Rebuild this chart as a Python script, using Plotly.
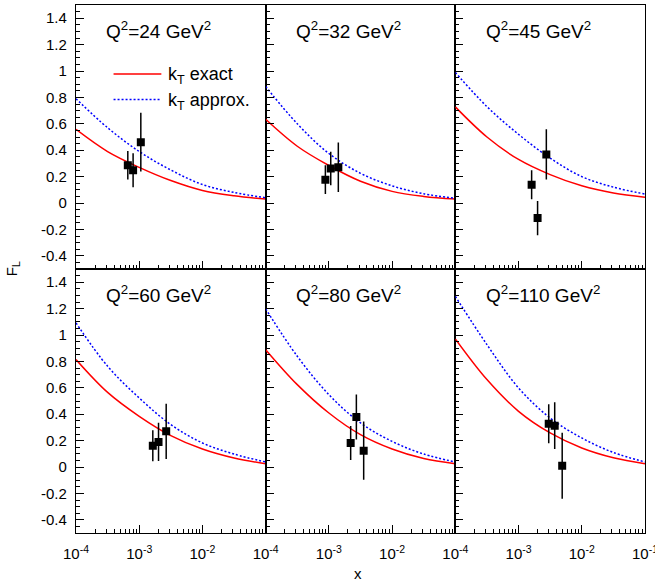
import plotly.graph_objects as go
from plotly.subplots import make_subplots

# ---------------- data ----------------
q2_labels = ["Q<sup>2</sup>=24 GeV<sup>2</sup>", "Q<sup>2</sup>=32 GeV<sup>2</sup>", "Q<sup>2</sup>=45 GeV<sup>2</sup>",
             "Q<sup>2</sup>=60 GeV<sup>2</sup>", "Q<sup>2</sup>=80 GeV<sup>2</sup>", "Q<sup>2</sup>=110 GeV<sup>2</sup>"]
legend_labels = ["k<sub>T</sub> exact", "k<sub>T</sub> approx."]

# theory curves sampled at half decades
curve_x = [1e-4, 3.162e-4, 1e-3, 3.162e-3, 1e-2, 3.162e-2, 1e-1]
exact_24 = [0.558, 0.39, 0.27, 0.17, 0.095, 0.055, 0.03]
approx_24 = [0.79, 0.57, 0.39, 0.25, 0.14, 0.08, 0.04]
exact_32 = [0.634, 0.43, 0.284, 0.165, 0.088, 0.05, 0.03]
approx_32 = [0.883, 0.60, 0.375, 0.225, 0.13, 0.07, 0.035]
exact_45 = [0.728, 0.50, 0.33, 0.215, 0.13, 0.075, 0.043]
approx_45 = [0.989, 0.73, 0.52, 0.34, 0.20, 0.12, 0.068]
exact_60 = [0.814, 0.565, 0.384, 0.238, 0.136, 0.068, 0.025]
approx_60 = [1.092, 0.763, 0.523, 0.321, 0.182, 0.098, 0.038]
exact_80 = [0.889, 0.624, 0.409, 0.245, 0.136, 0.064, 0.025]
approx_80 = [1.198, 0.839, 0.548, 0.334, 0.194, 0.098, 0.038]
exact_110 = [0.97, 0.662, 0.422, 0.258, 0.144, 0.07, 0.025]
approx_110 = [1.293, 0.927, 0.599, 0.371, 0.22, 0.11, 0.038]

# measurements
data_x_24 = [6.6e-4, 8.0e-4, 1.06e-3]
data_y_24 = [0.286, 0.248, 0.461]
data_e_24 = [0.108, 0.128, 0.222]
data_x_32 = [8.8e-4, 1.07e-3, 1.41e-3]
data_y_32 = [0.177, 0.261, 0.271]
data_e_32 = [0.109, 0.127, 0.188]
data_x_45 = [1.61e-3, 2.0e-3, 2.75e-3]
data_y_45 = [0.139, -0.114, 0.368]
data_e_45 = [0.11, 0.13, 0.19]
data_x_60 = [1.64e-3, 2.02e-3, 2.67e-3]
data_y_60 = [0.161, 0.19, 0.27]
data_e_60 = [0.118, 0.145, 0.21]
data_x_80 = [2.21e-3, 2.72e-3, 3.55e-3]
data_y_80 = [0.182, 0.379, 0.124]
data_e_80 = [0.129, 0.17, 0.22]
data_x_110 = [3.0e-3, 3.73e-3, 4.9e-3]
data_y_110 = [0.328, 0.313, 0.01]
data_e_110 = [0.148, 0.177, 0.25]

y_tickvals = [-0.4, -0.2, 0, 0.2, 0.4, 0.6, 0.8, 1.0, 1.2, 1.4]
y_ticktext = ["-0.4", "-0.2", "0", "0.2", "0.4", "0.6", "0.8", "1", "1.2", "1.4"]
x_tickvals = [1e-4, 1e-3, 1e-2, 1e-1]
x_ticktext = ["10<sup>-4</sup>", "10<sup>-3</sup>", "10<sup>-2</sup>", "10<sup>-1</sup>"]

panels = [
    (exact_24, approx_24, data_x_24, data_y_24, data_e_24),
    (exact_32, approx_32, data_x_32, data_y_32, data_e_32),
    (exact_45, approx_45, data_x_45, data_y_45, data_e_45),
    (exact_60, approx_60, data_x_60, data_y_60, data_e_60),
    (exact_80, approx_80, data_x_80, data_y_80, data_e_80),
    (exact_110, approx_110, data_x_110, data_y_110, data_e_110),
]

FONT = "Liberation Sans, Arial, sans-serif"
RED = "#ff0000"
BLUE = "#0000ff"
BLUE_DASH = "2px,2px"

fig = make_subplots(rows=2, cols=3, horizontal_spacing=0, vertical_spacing=0)

for i, (ex, ap, dx, dy, de) in enumerate(panels):
    r, c = i // 3 + 1, i % 3 + 1
    fig.add_trace(go.Scatter(x=curve_x, y=ex, mode="lines", line=dict(color=RED, width=1.5, shape="spline"),
                             name=legend_labels[0], showlegend=False), row=r, col=c)
    fig.add_trace(go.Scatter(x=curve_x, y=ap, mode="lines",
                             line=dict(color=BLUE, width=1.5, dash=BLUE_DASH, shape="spline"),
                             name=legend_labels[1], showlegend=False), row=r, col=c)
    fig.add_trace(go.Scatter(x=dx, y=dy, mode="markers",
                             marker=dict(symbol="square", size=8, color="black"),
                             error_y=dict(type="data", array=de, width=0, thickness=1.5, color="black"),
                             showlegend=False), row=r, col=c)

for i in range(6):
    r, c = i // 3 + 1, i % 3 + 1
    if r == 2:
        tv = x_tickvals if c == 3 else x_tickvals[:3]
        tt = x_ticktext if c == 3 else x_ticktext[:3]
        show = True
    else:
        tv, tt, show = x_tickvals, x_ticktext, False
    fig.update_xaxes(type="log", range=[-4, -1], tickvals=tv, ticktext=tt, showticklabels=show,
                     ticks="inside", ticklen=8, tickwidth=1, tickcolor="black",
                     minor=dict(ticks="inside", ticklen=4, tickwidth=1, tickcolor="black", dtick="D1"),
                     showline=True, linecolor="black", linewidth=1.2, mirror=True,
                     showgrid=False, zeroline=False, ticklabelstandoff=7, automargin=False,
                     ticklabeloverflow="allow",
                     tickfont=dict(family=FONT, size=15, color="black"), row=r, col=c)
    fig.update_yaxes(range=[-0.5, 1.5], tickvals=y_tickvals, ticktext=y_ticktext, showticklabels=(c == 1),
                     ticks="inside", ticklen=8, tickwidth=1, tickcolor="black",
                     minor=dict(ticks="inside", ticklen=4, tickwidth=1, tickcolor="black", dtick=0.05, tick0=0),
                     showline=True, linecolor="black", linewidth=1.2, mirror=True,
                     showgrid=False, zeroline=False, ticklabelstandoff=5, automargin=False,
                     tickfont=dict(family=FONT, size=15, color="black"), row=r, col=c)
    xr = "x domain" if i == 0 else f"x{i+1} domain"
    yr = "y domain" if i == 0 else f"y{i+1} domain"
    fig.add_annotation(text=q2_labels[i], xref=xr, yref=yr, x=0.15, y=0.96, xanchor="left", yanchor="top",
                       showarrow=False, font=dict(family=FONT, size=19, color="black"))

# legend (ROOT-style, inside first panel)
leg_rows = [(0.739, RED, "solid", legend_labels[0]), (0.642, BLUE, BLUE_DASH, legend_labels[1])]
for yy, col, dash, lab in leg_rows:
    fig.add_shape(type="line", xref="x domain", yref="y domain", x0=0.198, x1=0.45, y0=yy, y1=yy,
                  line=dict(color=col, width=1.5, dash=dash))
    fig.add_annotation(text=lab, xref="x domain", yref="y domain", x=0.475, y=yy, xanchor="left",
                       yanchor="middle", yshift=-2, showarrow=False, font=dict(family=FONT, size=18, color="black"))

fig.add_annotation(text="F<sub>L</sub>", xref="paper", yref="paper", x=-0.112, y=0.5, textangle=-90,
                   xanchor="center", yanchor="middle", showarrow=False,
                   font=dict(family=FONT, size=15, color="black"))
fig.add_annotation(text="x", xref="paper", yref="paper", x=0.4956, y=-0.076,
                   xanchor="center", yanchor="middle", showarrow=False,
                   font=dict(family=FONT, size=15, color="black"))

fig.update_layout(
    width=655, height=584,
    margin=dict(l=76, r=10, t=5, b=51, autoexpand=False),
    paper_bgcolor="white", plot_bgcolor="white",
    showlegend=False,
    font=dict(family=FONT, color="black"),
)

fig.write_html("out.html", config={"displayModeBar": False},
               post_script="document.body.style.margin='0px';document.body.style.overflow='hidden';")
